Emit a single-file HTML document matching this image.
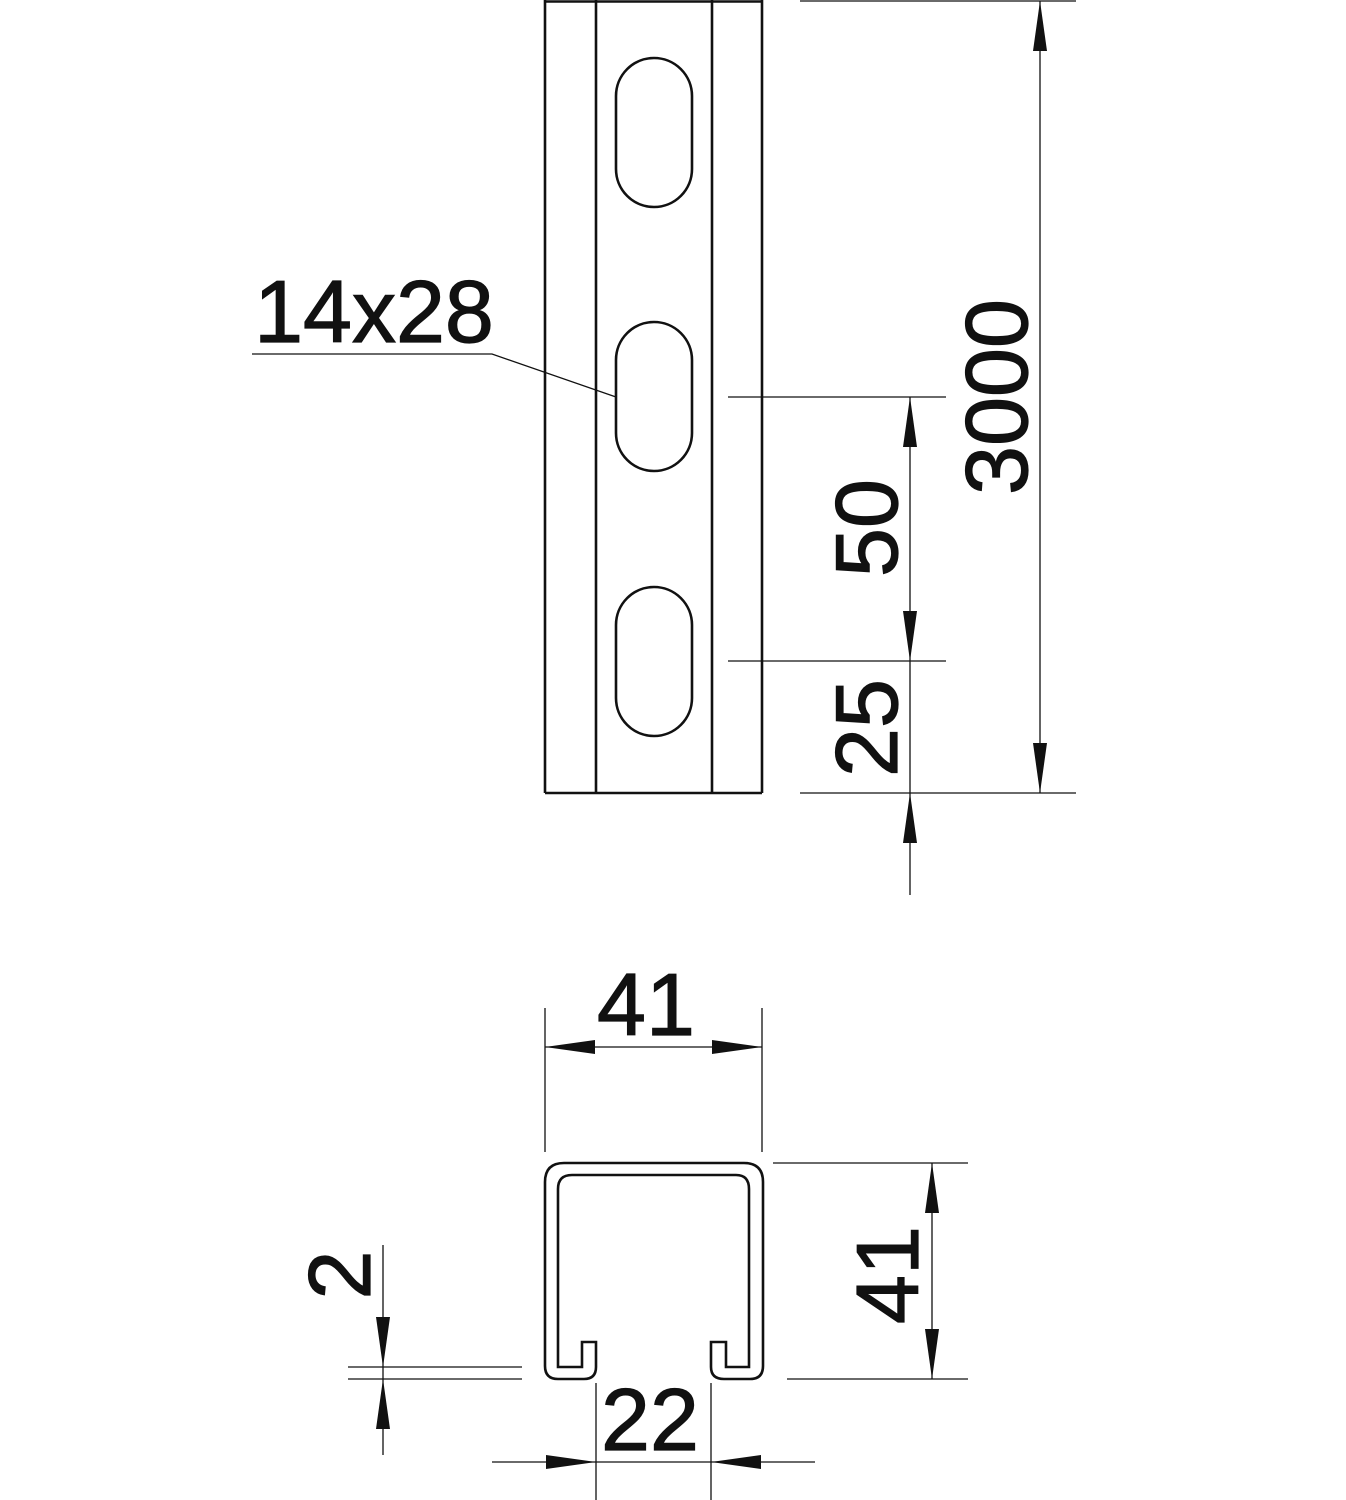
<!DOCTYPE html>
<html><head><style>html,body{margin:0;padding:0;background:#fff}svg{display:block}</style></head><body>
<svg width="1346" height="1500" viewBox="0 0 1346 1500" xmlns="http://www.w3.org/2000/svg" font-family="Liberation Sans, sans-serif">
<g stroke="#111" fill="none" stroke-width="2.6">
<line x1="545" y1="0" x2="545" y2="793"/>
<line x1="596" y1="0" x2="596" y2="793"/>
<line x1="712" y1="0" x2="712" y2="793"/>
<line x1="762" y1="0" x2="762" y2="793"/>
<line x1="545" y1="1.5" x2="762" y2="1.5"/>
<line x1="545" y1="793" x2="762" y2="793"/>
<rect x="616" y="58" width="76" height="149" rx="38" ry="38"/>
<rect x="616" y="322" width="76" height="149" rx="38" ry="38"/>
<rect x="616" y="587" width="76" height="149" rx="38" ry="38"/>
<path d="M596 1342 V1367 Q596 1379 584 1379 H558 Q545 1379 545 1366 V1182 Q545 1163 564 1163 H744 Q763 1163 763 1182 V1366 Q763 1379 750 1379 H724 Q711 1379 711 1367 V1342 H726 V1367 H749 V1189 Q749 1175 736 1175 H572 Q558 1175 558 1189 V1367 H582 V1342 Z"/>
</g>
<g stroke="#111" fill="none" stroke-width="1.3">
<line x1="800" y1="1" x2="1076" y2="1"/>
<line x1="800" y1="793" x2="1076" y2="793"/>
<line x1="1040" y1="1" x2="1040" y2="793"/>
<line x1="728" y1="397" x2="946" y2="397"/>
<line x1="728" y1="661" x2="946" y2="661"/>
<line x1="910" y1="397" x2="910" y2="895"/>
<polyline points="252,354 492,354 616,397"/>
<line x1="545" y1="1008" x2="545" y2="1152"/>
<line x1="762" y1="1008" x2="762" y2="1152"/>
<line x1="545" y1="1047" x2="762" y2="1047"/>
<line x1="773" y1="1163" x2="968" y2="1163"/>
<line x1="787" y1="1379" x2="968" y2="1379"/>
<line x1="932" y1="1163" x2="932" y2="1379"/>
<line x1="596" y1="1383" x2="596" y2="1500"/>
<line x1="711" y1="1383" x2="711" y2="1500"/>
<line x1="492" y1="1462" x2="815" y2="1462"/>
<line x1="348" y1="1367" x2="522" y2="1367"/>
<line x1="348" y1="1379" x2="522" y2="1379"/>
<line x1="383" y1="1245" x2="383" y2="1455"/>
</g>
<g fill="#111">
<polygon points="1040,1 1033,51 1047,51"/>
<polygon points="1040,793 1033,743 1047,743"/>
<polygon points="910,397 903,447 917,447"/>
<polygon points="910,661 903,611 917,611"/>
<polygon points="910,793 903,843 917,843"/>
<polygon points="545,1047 595,1040 595,1054"/>
<polygon points="762,1047 712,1040 712,1054"/>
<polygon points="932,1163 925,1213 939,1213"/>
<polygon points="932,1379 925,1329 939,1329"/>
<polygon points="596,1462 546,1455 546,1469"/>
<polygon points="711,1462 761,1455 761,1469"/>
<polygon points="383,1367 376,1317 390,1317"/>
<polygon points="383,1379 376,1429 390,1429"/>
</g>
<g fill="#111" stroke="#111" stroke-width="1.2" font-size="88" text-anchor="middle">
<text x="374" y="342">14x28</text>
<text x="646" y="1035">41</text>
<text x="650" y="1450">22</text>
<text transform="translate(1027,397) rotate(-90)">3000</text>
<text transform="translate(897,528) rotate(-90)">50</text>
<text transform="translate(897,728) rotate(-90)">25</text>
<text transform="translate(918,1275) rotate(-90)">41</text>
<text transform="translate(370,1275) rotate(-90)">2</text>
</g>
</svg>
</body></html>
